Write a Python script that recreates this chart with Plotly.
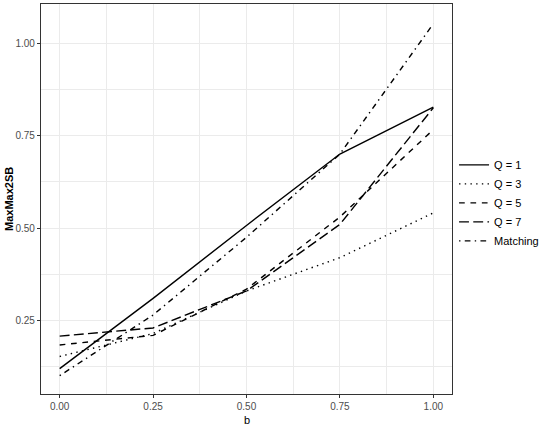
import plotly.graph_objects as go

b = [0.0, 0.25, 0.5, 0.75, 1.0]
series_names = ["Q = 1", "Q = 3", "Q = 5", "Q = 7", "Matching"]
q1 = [0.120, 0.310, 0.507, 0.700, 0.827]
q3 = [0.153, 0.215, 0.330, 0.420, 0.541]
q5 = [0.184, 0.210, 0.335, 0.530, 0.766]
q7 = [0.208, 0.230, 0.330, 0.510, 0.825]
matching = [0.101, 0.265, 0.475, 0.700, 1.052]
x_ticks = [0.0, 0.25, 0.5, 0.75, 1.0]
x_ticklabels = ["0.00", "0.25", "0.50", "0.75", "1.00"]
y_ticks = [0.25, 0.5, 0.75, 1.0]
y_ticklabels = ["0.25", "0.50", "0.75", "1.00"]
x_title = "b"
y_title = "MaxMax2SB"

lw = 1.42
dashes = [
    "solid",
    f"{lw:.1f}px,{3*lw:.1f}px",
    f"{4*lw:.1f}px,{4*lw:.1f}px",
    f"{7*lw:.1f}px,{3*lw:.1f}px",
    f"{lw:.1f}px,{3*lw:.1f}px,{4*lw:.1f}px,{3*lw:.1f}px",
]
values = [q1, q3, q5, q7, matching]

fig = go.Figure()
for name, vals, d in zip(series_names, values, dashes):
    fig.add_trace(go.Scatter(x=b, y=vals, mode="lines", name=name,
                             line=dict(color="black", width=lw, dash=d)))

font = "Liberation Sans, Arial, sans-serif"
axis_common = dict(
    showgrid=True, gridcolor="#EBEBEB", gridwidth=1.4,
    zeroline=False, showline=True, mirror=True, linecolor="#333333", linewidth=1.2,
    ticks="outside", ticklen=3, tickwidth=1.2, tickcolor="#333333",
    tickfont=dict(family=font, size=10, color="#4D4D4D"),
)
fig.update_layout(
    width=550, height=425,
    margin=dict(l=41, r=98, t=4, b=31),
    paper_bgcolor="white", plot_bgcolor="white",
    font=dict(family=font, color="black"),
    xaxis=dict(range=[-0.05, 1.05], tickvals=x_ticks, ticktext=x_ticklabels,
               minor=dict(tick0=0.125, dtick=0.25, showgrid=True, gridcolor="#EBEBEB", gridwidth=0.7),
               ticklabelstandoff=0, **axis_common),
    yaxis=dict(range=[0.0515, 1.1055], tickvals=y_ticks, ticktext=y_ticklabels,
               minor=dict(tick0=0.125, dtick=0.25, showgrid=True, gridcolor="#EBEBEB", gridwidth=0.7),
               **axis_common),
    legend=dict(x=1.005, xanchor="left", y=0.49, yanchor="middle",
                font=dict(family=font, size=11, color="black"),
                itemwidth=30, tracegroupgap=0, bgcolor="rgba(0,0,0,0)"),
    showlegend=True,
    annotations=[
        dict(text=x_title, xref="paper", yref="paper", x=0.5, y=-0.067,
             xanchor="center", yanchor="middle", showarrow=False,
             font=dict(family=font, size=11, color="black")),
        dict(text="<b>" + y_title + "</b>", xref="paper", yref="paper", x=-0.078, y=0.5,
             xanchor="center", yanchor="middle", textangle=-90, showarrow=False,
             font=dict(family=font, size=11, color="black")),
    ],
)
fig.write_html("out.html", config={"displayModeBar": False},
               post_script="document.body.style.margin='0';document.body.style.padding='0';")
